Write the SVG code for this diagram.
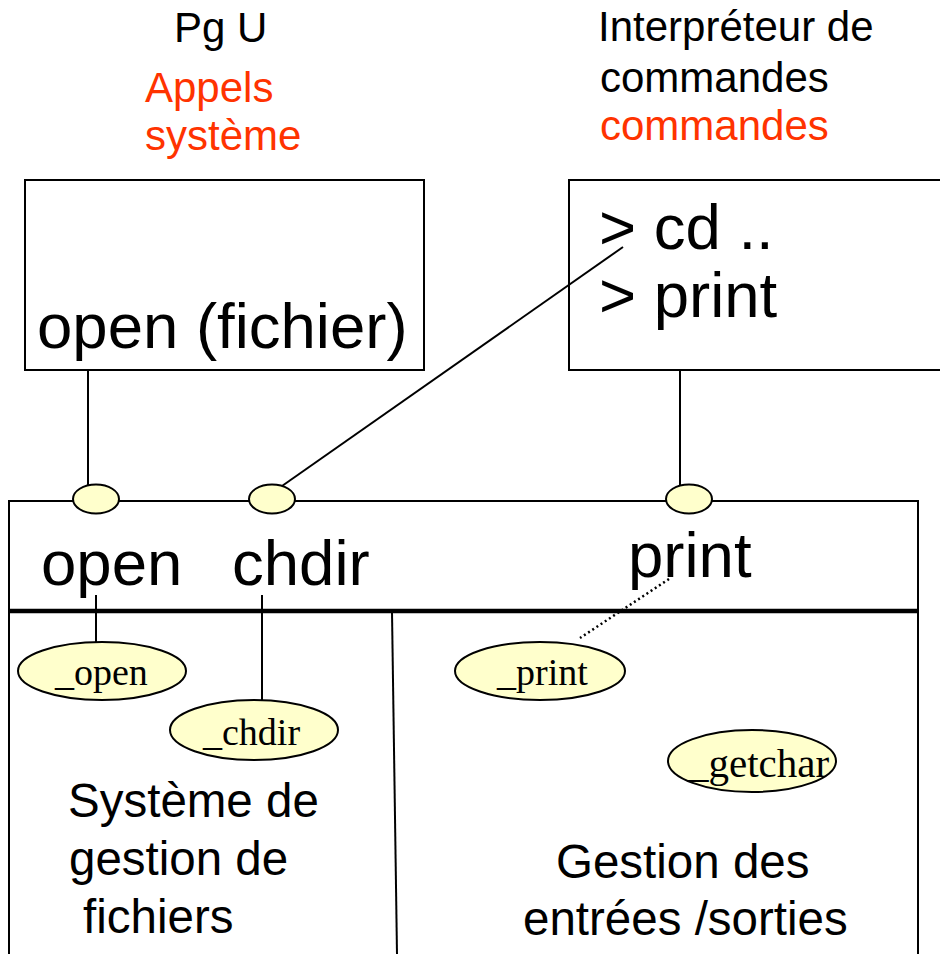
<svg xmlns="http://www.w3.org/2000/svg" width="940" height="954" viewBox="0 0 940 954">
<style>
.box{fill:#fff;stroke:#000;stroke-width:2}
.ln{stroke:#000;stroke-width:2;fill:none}
.dot{stroke:#000;stroke-width:2.5;fill:none;stroke-dasharray:2 3}
.el{fill:#FFFFCC;stroke:#000;stroke-width:2}
.t{font-family:"Liberation Sans",Arial,sans-serif;fill:#000}
.red{fill:#FF3300}
.big{font-size:63.5px}
.mid{font-size:47.5px}
.ttl{font-size:42px}
.s{font-family:"Liberation Serif","Times New Roman",serif;font-size:38px;fill:#000}
</style>
<rect width="940" height="954" fill="#fff"/>

<g id="titles">
<text class="t ttl" x="174" y="42">Pg U</text>
<text class="t ttl red" x="145" y="102">Appels</text>
<text class="t ttl red" x="145" y="150">système</text>
<text class="t ttl" x="598" y="41">Interpréteur de</text>
<text class="t ttl" x="600" y="92">commandes</text>
<text class="t ttl red" x="600" y="140">commandes</text>
</g>

<g id="pgu">
<rect class="box" x="25" y="180" width="399" height="190"/>
<text class="t big" x="37" y="348">open (fichier)</text>
</g>

<g id="shell">
<rect class="box" x="569" y="180" width="380" height="190"/>
<text class="t big" x="599" y="249">&gt; cd ..</text>
<text class="t big" x="599" y="317">&gt; print</text>
</g>

<g id="kernel">
<rect class="box" x="9" y="501" width="909" height="460"/>
<line x1="9" y1="611" x2="918" y2="611" stroke="#000" stroke-width="4.5"/>
<line class="ln" x1="392" y1="612" x2="397" y2="954"/>
<text class="t big" x="41" y="585">open</text>
<text class="t big" x="232" y="585">chdir</text>
<text class="t big" x="628" y="577">print</text>
<text class="t mid" x="68" y="817">Système de</text>
<text class="t mid" x="69" y="875">gestion de</text>
<text class="t mid" x="83" y="933">fichiers</text>
<text class="t mid" x="556" y="878">Gestion des</text>
<text class="t mid" x="523" y="935">entrées /sorties</text>
</g>

<g id="connectors">
<line class="ln" x1="88" y1="370" x2="88" y2="485"/>
<line class="ln" x1="680" y1="370" x2="680" y2="485"/>
<line class="ln" x1="282" y1="486" x2="623" y2="247"/>
<line class="ln" x1="96" y1="595" x2="96" y2="642"/>
<line class="ln" x1="262" y1="595" x2="262" y2="700"/>
<line class="dot" x1="669" y1="579" x2="580" y2="638"/>
</g>

<g id="port-open"><ellipse class="el" cx="96" cy="499" rx="23" ry="14.5"/></g>
<g id="port-chdir"><ellipse class="el" cx="272" cy="499" rx="23" ry="14.5"/></g>
<g id="port-print"><ellipse class="el" cx="689" cy="499" rx="23" ry="14.5"/></g>

<g id="n-open"><ellipse class="el" cx="102" cy="671" rx="84" ry="29"/><text class="s" x="55" y="685">_open</text></g>
<g id="n-chdir"><ellipse class="el" cx="254" cy="730" rx="84" ry="30"/><text class="s" x="203" y="745">_chdir</text></g>
<g id="n-print"><ellipse class="el" cx="540" cy="671" rx="85" ry="29"/><text class="s" x="497" y="685">_print</text></g>
<g id="n-getchar"><ellipse class="el" cx="752" cy="761" rx="84" ry="31"/><text class="s" x="688" y="777" style="font-size:41px">_getchar</text></g>
</svg>
